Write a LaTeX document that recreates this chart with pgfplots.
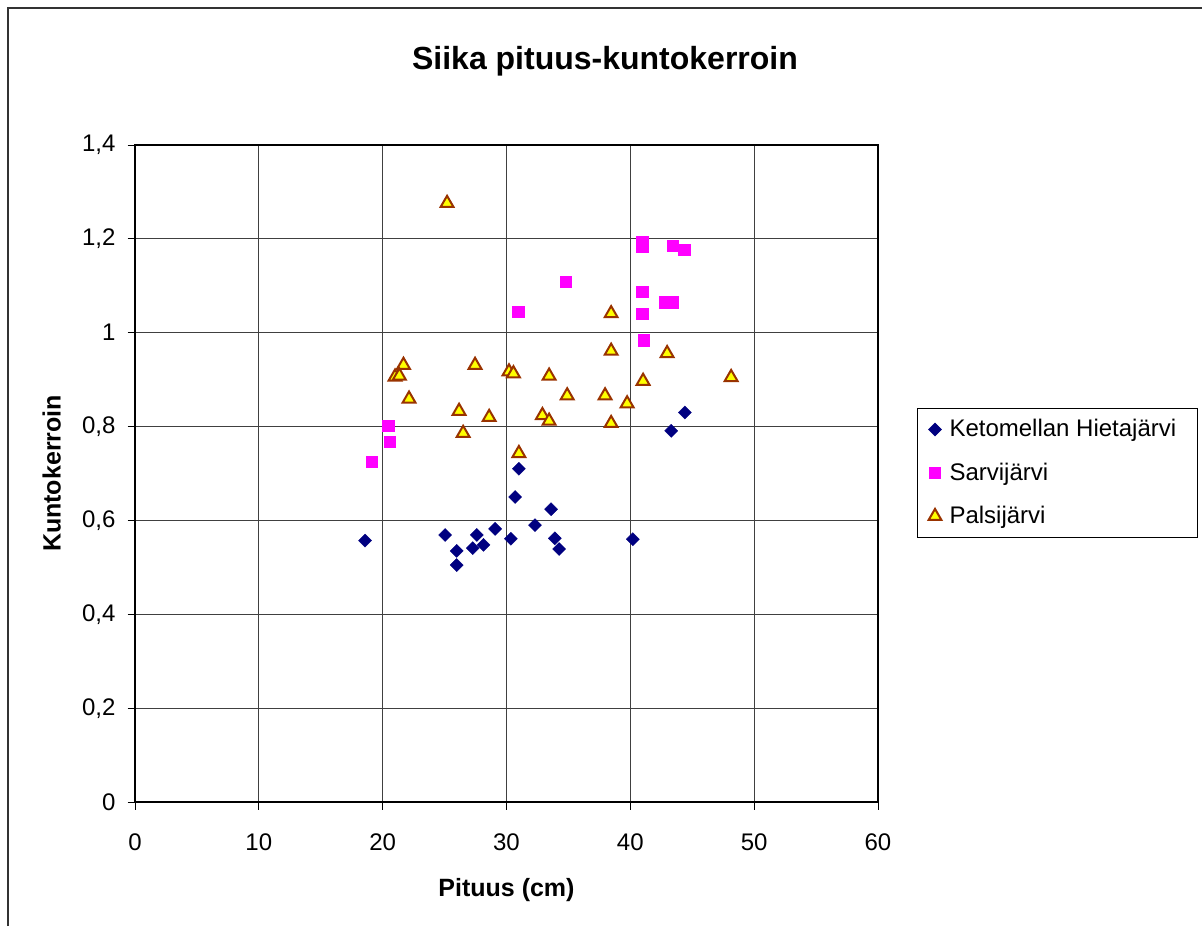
\documentclass[border=0pt]{standalone}
\usepackage{pgfplots}
\pgfplotsset{compat=1.18}
\usepackage{fontspec}
\setmainfont{Liberation Sans}
\definecolor{navy}{RGB}{0,0,128}
\definecolor{mag}{RGB}{255,0,255}
\definecolor{tribord}{RGB}{153,51,0}
\definecolor{triyel}{RGB}{255,255,0}

\begin{document}
\begin{tikzpicture}
\useasboundingbox (0,0) rectangle (601pt,-463pt);
\draw[line width=1pt, black!80] (3.75pt,-463pt) -- (3.75pt,-3.75pt) -- (601pt,-3.75pt);
\begin{axis}[
  at={(67.5pt,-401pt)}, anchor=south west,
  scale only axis, width=371.5pt, height=328.5pt,
  xmin=0, xmax=60, ymin=0, ymax=1.4,
  xtick={0,10,20,30,40,50,60},
  ytick={0,0.2,0.4,0.6,0.8,1,1.2,1.4},
  grid=major,
  major grid style={black!75, line width=0.5pt},
  axis line style={line width=0.6pt},
  tick align=outside, major tick length=3.75pt,
  tick style={black, line width=0.5pt},
  tick pos=left,
  /pgf/number format/assume math mode=true,
  /pgf/number format/use comma,
  tick label style={font=\fontsize{12}{14}\selectfont},
  xticklabel style={yshift=-8.5pt},
  yticklabel style={xshift=-2.5pt},
  title={Siika pituus-kuntokerroin},
  title style={at={(axis description cs:0.6326,1)}, anchor=base, yshift=32pt,
    font=\bfseries\fontsize{16}{19}\selectfont},
  xlabel={Pituus (cm)},
  ylabel={Kuntokerroin},
  every axis x label/.style={at={(axis description cs:0.5,0)}, anchor=center,
    yshift=-44pt, font=\bfseries\fontsize{12.5}{15}\selectfont},
  every axis y label/.style={at={(axis description cs:0,0.5)}, xshift=-41.6pt,
    rotate=90, anchor=center, font=\bfseries\fontsize{12.5}{15}\selectfont},
  legend style={at={(axis description cs:1.0525,0.6)}, anchor=north west,
    draw=black, line width=0.5pt, font=\fontsize{12}{14}\selectfont,
    cells={anchor=west}, row sep=7.5pt, column sep=2pt,
    inner xsep=5.5pt, inner ysep=3.5pt},
  clip=false,
]

% Ketomellan Hietajarvi
\addplot[only marks, mark=square*, mark size=2.3pt,
  mark options={rotate=45, fill=navy, draw=navy, line width=0.2pt}]
coordinates {
  (18.58,0.557) (25.04,0.569) (25.98,0.535) (25.98,0.505) (27.6,0.569)
  (27.28,0.541) (28.14,0.548) (29.08,0.582) (30.35,0.561) (30.7,0.650)
  (31.0,0.710) (32.3,0.590) (33.6,0.624) (33.9,0.562) (34.25,0.539)
  (40.2,0.560) (43.3,0.791) (44.4,0.830)
};
\addlegendentry{Ketomellan Hietajärvi\hspace*{3pt}}

% Sarvijarvi
\addplot[only marks, mark=square*, mark size=2.8pt,
  mark options={fill=mag, draw=mag, line width=0.2pt}]
coordinates {
  (40.95,1.194) (40.95,1.183) (43.4,1.186) (44.35,1.177) (34.8,1.109)
  (40.95,1.087) (42.8,1.065) (43.4,1.065) (40.95,1.040) (30.94,1.044)
  (41.1,0.984) (20.44,0.802) (20.6,0.768) (19.14,0.725)
};
\addlegendentry{Sarvijärvi}

% Palsijarvi
\addplot[only marks, mark=triangle*, mark size=3.7pt,
  mark options={fill=triyel, draw=tribord, line width=1pt}]
coordinates {
  (25.2,1.276) (38.45,1.041) (38.45,0.961) (42.97,0.956) (21.68,0.931)
  (27.46,0.931) (21.0,0.906) (21.35,0.908) (30.2,0.917) (30.56,0.913)
  (33.44,0.908) (41.03,0.897) (22.13,0.859) (34.9,0.866) (37.96,0.866)
  (39.74,0.849) (26.17,0.833) (28.6,0.820) (32.9,0.824) (33.44,0.812)
  (38.45,0.807) (26.5,0.786) (31.0,0.743) (48.14,0.905)
};
\addlegendentry{Palsijärvi}

\draw[line width=1.1pt] (rel axis cs:0,1) -- (rel axis cs:0,0) -- (rel axis cs:1,0);
\end{axis}
\end{tikzpicture}
\end{document}
